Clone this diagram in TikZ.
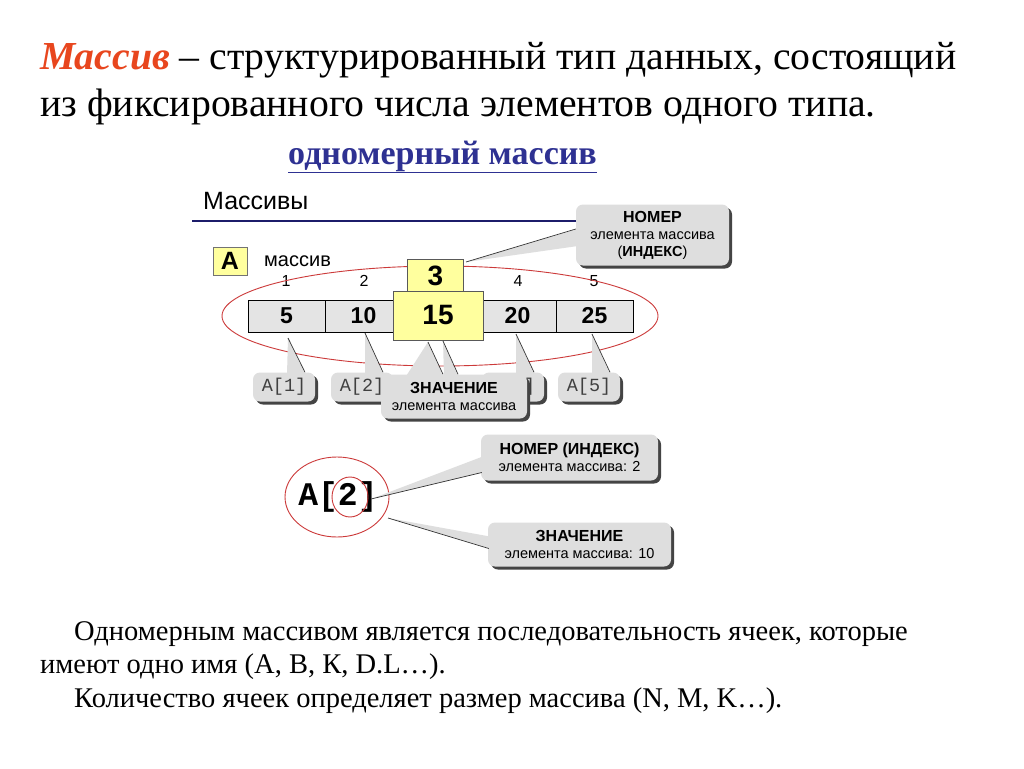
\documentclass[tikz,border=0pt]{standalone}
\usepackage{fontspec}
\setmainfont{Liberation Serif}
\setsansfont{Liberation Sans}
\setmonofont{Liberation Mono}
\usetikzlibrary{shadows}
\definecolor{MRed}{HTML}{E8461E}
\definecolor{MBlue}{HTML}{2E3192}
\definecolor{MNavy}{HTML}{1C1C6A}
\definecolor{MOval}{HTML}{CC3A3A}
\definecolor{MCell}{HTML}{E4E4E4}
\definecolor{MYellow}{HTML}{FFFF9E}
\definecolor{MCall}{HTML}{DEDEDE}
\definecolor{MShade}{HTML}{444444}
\tikzset{
  cellbox/.style={draw=black,line width=1pt,fill=MCell,minimum width=77pt,minimum height=32pt,inner sep=0pt,font=\sffamily\bfseries\fontsize{23}{23}\selectfont},
  hibox/.style={draw=black!65,line width=.8pt,fill=MYellow,inner sep=0pt,font=\sffamily\bfseries\fontsize{28}{28}\selectfont},
  callout/.style={fill=MCall,rounded corners=7pt,inner sep=0pt,align=center,font=\sffamily\fontsize{14.5}{17}\selectfont,drop shadow={shadow xshift=3pt,shadow yshift=-3pt,fill=MShade,opacity=1}},
  cellref/.style={callout,minimum width=62pt,minimum height=29pt,font=\ttfamily\fontsize{18.5}{18.5}\selectfont\color{black!75}},
  wedge/.style={fill=MCall},
  edgeline/.style={draw=black!80,line width=.7pt},
  idx/.style={font=\sffamily\fontsize{16}{16}\selectfont},
  serifline/.style={anchor=base west,inner sep=0pt,font=\fontsize{28.5}{28.5}\selectfont}
}
\newcommand\calltitle[1]{\textbf{\fontsize{16}{18}\selectfont #1}}
\begin{document}
\begin{tikzpicture}[x=1pt,y=-1pt]
\path[use as bounding box] (0,0) rectangle (1024,768);
\fill[white] (0,0) rectangle (1024,768);
% heading
\node[anchor=base west,inner sep=0pt,font=\fontsize{39.7}{40}\selectfont] (title1) at (40,69)
  {\textcolor{MRed}{\bfseries\itshape Массив} – структурированный тип данных, состоящий};
\node[anchor=base west,inner sep=0pt,font=\fontsize{39.7}{40}\selectfont] (title2) at (40,116)
  {из фиксированного числа элементов одного типа.};
\node[anchor=base west,inner sep=0pt,text=MBlue,font=\bfseries\fontsize{34}{34}\selectfont] (sub) at (288,164)
  {\underline{одномерный массив}};
% panel
\node[anchor=base west,inner sep=0pt,font=\sffamily\fontsize{25}{25}\selectfont] (panel) at (203,209) {Массивы};
\coordinate (rulestart) at (192,221);
\coordinate (ruleend) at (590,221);
\draw[MNavy,line width=1.6pt] (rulestart) -- (ruleend);
\node[hibox,draw=black!55,minimum width=34pt,minimum height=28pt,font=\sffamily\bfseries\fontsize{25}{25}\selectfont] (aname) at (230,261) {A};
\node[anchor=base west,inner sep=0pt,font=\sffamily\fontsize{20}{20}\selectfont] (akind) at (264,266) {массив};
\foreach \n/\x in {1/286,2/364,4/518,5/594}
  \node[idx] (n\n) at (\x,281) {\n};
\draw[MOval,line width=.9pt] (440,316) ellipse [x radius=218,y radius=50];
\foreach \v [count=\i] in {5,10,{},20,25}
  \node[cellbox] (c\i) at ({209.5+77*\i},316) {\v};
\node[hibox,minimum width=56pt,minimum height=33pt] (ind) at (435.5,275.5) {3};
\node[hibox,minimum width=90pt,minimum height=49pt] (val) at (438,315.5) {15};
% element names
\node[cellref] (r1) at (284,387) {A[1]};
\node[cellref] (r2) at (362,387) {A[2]};
\node[cellref] (r4) at (513,387) {A[4]};
\node[cellref] (r5) at (589,387) {A[5]};
\coordinate (t1) at (288,338);
\coordinate (t2) at (365,333);
\coordinate (t4) at (516,334);
\coordinate (t5) at (592,334);
\foreach \k in {1,2,4,5} {
  \fill[wedge] (t\k) -- ([xshift=3pt,yshift=-2pt]r\k.north) -- ([xshift=21pt,yshift=-2pt]r\k.north) -- cycle;
  \draw[edgeline] (t\k) -- ([xshift=21pt]r\k.north);
}
% value callout
\node[callout,minimum width=146pt,minimum height=44pt] (zn) at (454,396.5)
  {\calltitle{ЗНАЧЕНИЕ}\\элемента массива};
\coordinate (tz1) at (428,342);
\coordinate (tz2) at (443,341);
\fill[wedge] (tz1) -- ([xshift=-48pt,yshift=-2pt]zn.north) -- ([xshift=-11pt,yshift=-2pt]zn.north) -- cycle;
\fill[wedge] (tz2) -- ([xshift=-10pt,yshift=-2pt]zn.north) -- ([xshift=4pt,yshift=-2pt]zn.north) -- cycle;
\draw[edgeline] (tz1) -- ([xshift=-11pt]zn.north);
\draw[edgeline] (tz2) -- ([xshift=4pt]zn.north);
% index callout
\node[callout,minimum width=153pt,minimum height=61pt] (numcall) at (652.5,235)
  {\calltitle{НОМЕР}\\элемента массива\\(\textbf{ИНДЕКС})};
\coordinate (ti) at (466,262);
\fill[wedge] (ti) -- ([xshift=2pt,yshift=-11pt]numcall.west) -- ([xshift=2pt,yshift=6pt]numcall.west) -- cycle;
\draw[edgeline] (ti) -- ([yshift=6pt]numcall.west);
% single element
\node[inner sep=0pt,font=\ttfamily\bfseries\fontsize{33}{33}\selectfont] (aref) at (338,497) {A[2]};
\draw[MOval,line width=.9pt] (337,497) ellipse [x radius=52,y radius=40];
\draw[MOval,line width=.9pt] ([xshift=12pt]aref.center) ellipse [x radius=18,y radius=20];
\node[callout,minimum width=177pt,minimum height=46pt] (nidx) at (569.5,457.5)
  {\calltitle{НОМЕР (ИНДЕКС)}\\элемента массива: 2};
\node[callout,minimum width=183pt,minimum height=44pt] (nval) at (579.5,544.5)
  {\calltitle{ЗНАЧЕНИЕ}\\элемента массива: 10};
\coordinate (ta) at (371,499);
\coordinate (tb) at (388,518);
\fill[wedge] (ta) -- ([xshift=2pt,yshift=1pt]nidx.west) -- ([xshift=2pt,yshift=-15pt]nidx.west) -- cycle;
\draw[edgeline] (ta) -- ([xshift=1pt,yshift=-15pt]nidx.west);
\fill[wedge] (tb) -- ([xshift=2pt,yshift=8pt]nval.west) -- ([xshift=2pt,yshift=-4pt]nval.west) -- cycle;
\draw[edgeline] (tb) -- ([xshift=1pt,yshift=-4pt]nval.west);
% text below
\node[serifline] (body1) at (74,640) {Одномерным массивом является последовательность ячеек, которые};
\node[serifline] (body2) at (40,673) {имеют одно имя (A, B, К, D.L…).};
\node[serifline] (body3) at (74,707) {Количество ячеек определяет размер массива (N, M, K…).};
\end{tikzpicture}
\end{document}
